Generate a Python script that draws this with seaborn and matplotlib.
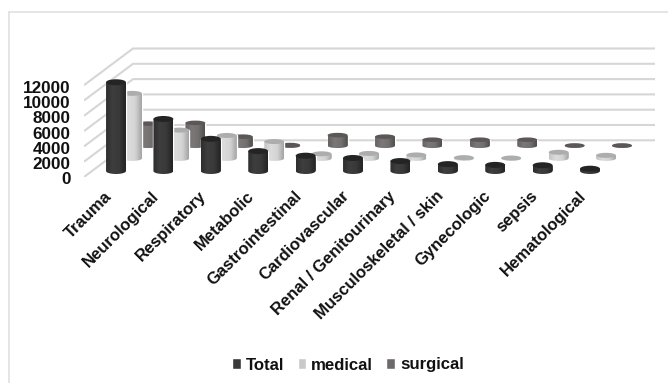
import numpy as np
import pandas as pd
import matplotlib
matplotlib.use("Agg")
import matplotlib.pyplot as plt
import seaborn as sns
from matplotlib.colors import LinearSegmentedColormap
from matplotlib.lines import Line2D
from matplotlib.patches import Ellipse
from matplotlib.path import Path
from matplotlib.transforms import ScaledTranslation

categories = ["Trauma", "Neurological", "Respiratory", "Metabolic", "Gastrointestinal",
              "Cardiovascular", "Renal / Genitourinary", "Musculoskeletal / skin",
              "Gynecologic", "sepsis", "Hematological"]
total = [11600, 6800, 4200, 2600, 2000, 1700, 1300, 900, 800, 750, 300]
medical = [8500, 3700, 3000, 2200, 600, 650, 450, 100, 50, 800, 400]
surgical = [2900, 3000, 1200, 100, 1400, 1200, 800, 800, 800, 50, 50]
series_names = ["Total", "medical", "surgical"]
ticks = [0, 2000, 4000, 6000, 8000, 10000, 12000]

W, H = 668, 383
PX_PER_CAT = 47.4
PX_PER_VAL = 15.3 / 2000


def cat_px(px):
    return px / PX_PER_CAT


def val_px(px):
    return px / PX_PER_VAL


sns.set_theme(style="white", rc={"axes.facecolor": "none"})
plt.rcParams["font.family"] = ["Liberation Sans", "DejaVu Sans"]
plt.rcParams["font.weight"] = "bold"

fig = plt.figure(figsize=(W / 100, H / 100), dpi=100, facecolor="white")
left_px, right_px, floor_px, top_px = 84, 655, 177, 12
ax = fig.add_axes([left_px / W, 1 - floor_px / H, (right_px - left_px) / W, (floor_px - top_px) / H])

df = pd.DataFrame({
    "category": categories * 3,
    "series": np.repeat(series_names, len(categories)),
    "value": total + medical + surgical,
})
solid = {"Total": "#3a3a3a", "medical": "#c9c9c9", "surgical": "#6e6969"}
sns.barplot(data=df, x="category", y="value", hue="series", order=categories,
            hue_order=series_names, palette=solid, dodge=False, width=0.42,
            errorbar=None, ax=ax)

xlo = (left_px - 116) / PX_PER_CAT
xhi = (right_px - 116) / PX_PER_CAT
depth_x, depth_y = cat_px(49), val_px(36.7)

# Floor and wall gridlines, folded round the back-left corner of the chart box.
for t in ticks:
    ax.plot([xlo, xlo + depth_x, xhi], [t, t + depth_y, t + depth_y],
            color="#d6d6d6", lw=1.5, zorder=1, solid_capstyle="butt")

# Cylinder shading per series: side gradient from left to right, lid colour, lid height.
styles = {
    "Total": (["#2e2e2e", "#3e3e3e", "#393939", "#232323"], "#242424", 6.0),
    "medical": (["#c4c4c4", "#dcdcdc", "#d4d4d4", "#a4a4a4"], "#adadad", 5.0),
    "surgical": (["#676262", "#7c7777", "#737070", "#514d4d"], "#5c5757", 4.5),
}
step_x, step_y = cat_px(16), val_px(12.6)
base_y = val_px(6)
grad = np.linspace(0, 1, 64).reshape(1, -1)

for s, (name, container) in enumerate(zip(series_names, ax.containers)):
    colors, lid, lid_px = styles[name]
    minor = val_px(lid_px)
    cmap = LinearSegmentedColormap.from_list(name, colors)
    for i, rect in enumerate(container):
        x0 = rect.get_x() + s * step_x
        w = rect.get_width()
        y0 = base_y + s * step_y
        h = rect.get_height()
        z = 5 - s + i * 0.01
        rect.set_x(x0)
        rect.set_y(y0)
        rect.set_zorder(z)
        theta = np.linspace(np.pi, 2 * np.pi, 40)
        xs = x0 + w / 2 + w / 2 * np.cos(theta)
        ys = y0 + minor / 2 * np.sin(theta)
        outline = np.column_stack([np.r_[xs, x0 + w, x0, x0], np.r_[ys, y0 + h, y0 + h, y0]])
        im = ax.imshow(grad, extent=(x0, x0 + w, y0 - minor / 2, y0 + h), aspect="auto",
                       cmap=cmap, zorder=z, interpolation="bilinear")
        im.set_clip_path(Path(outline), ax.transData)
        ax.add_patch(Ellipse((x0 + w / 2, y0 + h), w, minor, facecolor=lid,
                             edgecolor="none", zorder=z))

ax.set_xlim(xlo, xhi)
ax.set_ylim(0, val_px(floor_px - top_px))
ax.set_yticks(ticks)
ax.set_xlabel("")
ax.set_ylabel("")
sns.despine(ax=ax, left=True, bottom=True)
ax.tick_params(axis="both", length=0)
ax.tick_params(axis="y", pad=9.5, labelsize=12.3)

shift = ScaledTranslation(-12 / 100, -6.5 / 100, fig.dpi_scale_trans)
for lab in ax.get_xticklabels():
    lab.set_rotation(45)
    lab.set_ha("right")
    lab.set_va("top")
    lab.set_rotation_mode("anchor")
    lab.set_fontsize(12)
    lab.set_color("#111111")
    lab.set_transform(lab.get_transform() + shift)
yshift = ScaledTranslation(0, -1.5 / 100, fig.dpi_scale_trans)
for lab in ax.get_yticklabels():
    lab.set_color("#111111")
    lab.set_transform(lab.get_transform() + yshift)

sns.move_legend(ax, "center", bbox_to_anchor=(348 / W, 1 - 365 / H),
                bbox_transform=fig.transFigure, ncol=3, frameon=False, title=None,
                fontsize=12.1, handlelength=0.5, handleheight=0.6, handletextpad=0.3,
                columnspacing=0.8, labelcolor="#111111")

# Chart-area frame: only its top and left sides show.
for xy in (([9 / W, 1], [1 - 12 / H, 1 - 12 / H]), ([9 / W, 9 / W], [1 - 12 / H, 0])):
    fig.add_artist(Line2D(xy[0], xy[1], color="#e0e0e0", lw=1.2))

fig.savefig("out.png", dpi=100)
